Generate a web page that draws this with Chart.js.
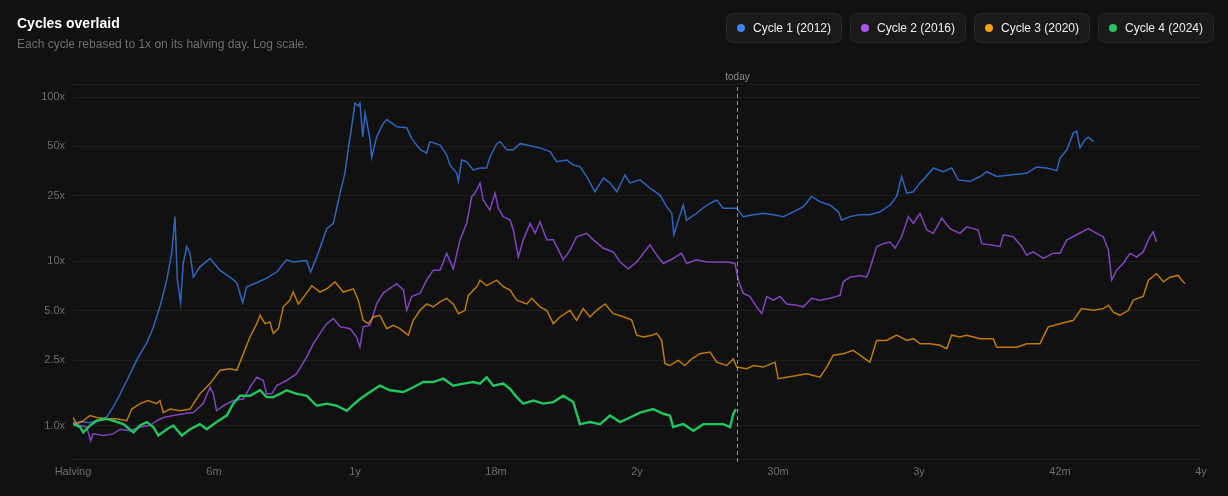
<!DOCTYPE html>
<html>
<head>
<meta charset="utf-8">
<script src="https://cdn.jsdelivr.net/npm/chart.js@4"></script>
<style>
  html, body { margin: 0; padding: 0; background: #111111; }
  body { width: 1228px; height: 496px; position: relative; overflow: hidden; font-family: "Liberation Sans", Arial, sans-serif; }
  #wrap { position: absolute; left: 0; top: 0; width: 1228px; height: 496px; }
  #title { position: absolute; left: 17px; top: 15px; color: #ffffff; font-size: 14px; font-weight: bold; }
  #sub { position: absolute; left: 17px; top: 37px; color: #6f6f6f; font-size: 12px; }
  #legend { position: absolute; right: 14px; top: 13px; display: flex; gap: 8px; }
  .item { box-sizing: border-box; width: 116px; height: 30px; padding: 0 0 0 10px; display: flex; align-items: center;
          border: 1px solid #2a2a2a; background: #1a1a1a; border-radius: 7px; color: #ededed; font-size: 12px; }
  .dot { width: 8px; height: 8px; border-radius: 50%; margin-right: 8px; }
</style>
</head>
<body>
<div id="wrap"><canvas id="chart" width="1228" height="496"></canvas></div>
<div id="title">Cycles overlaid</div>
<div id="sub">Each cycle rebased to 1x on its halving day. Log scale.</div>
<div id="legend"></div>
<script>
// months since halving, and price multiple vs halving day
const c1Months = [0,0.3,0.72,1.15,1.43,1.7,2.0,2.29,2.71,3.14,3.4,3.7,3.99,4.2,4.34,4.44,4.58,4.69,4.84,4.98,5.12,5.4,5.83,6.26,6.68,6.97,7.22,7.39,7.82,8.24,8.67,9.09,9.37,9.94,10.11,10.37,10.8,11.08,11.36,11.57,11.71,11.86,12.0,12.14,12.21,12.33,12.43,12.64,12.71,12.92,13.2,13.35,13.77,14.2,14.41,14.77,15.05,15.19,15.62,15.9,16.04,16.33,16.4,16.54,16.75,17.03,17.32,17.6,17.74,18.03,18.17,18.46,18.74,19.02,19.31,19.87,20.3,20.58,21.01,21.29,21.57,21.86,22.21,22.57,22.85,23.14,23.49,23.7,24.13,24.55,24.98,25.26,25.48,25.57,25.76,25.97,26.11,26.54,26.97,27.39,27.67,28.24,28.52,28.95,29.37,29.8,30.23,30.65,31.08,31.43,31.79,32.21,32.57,32.71,33.06,33.49,33.91,34.34,34.77,35.05,35.26,35.48,35.76,36.04,36.18,36.61,37.03,37.39,37.67,38.17,38.6,38.88,39.31,39.87,40.58,41.01,41.43,41.86,42.0,42.29,42.57,42.71,42.85,43.06,43.2,43.42];
const c1Values = [1.03,1.06,1.04,1.09,1.12,1.29,1.55,1.88,2.5,3.2,3.9,5.3,7.7,11.2,18.7,7.7,5.6,9.7,12.3,11.2,8.0,9.25,10.4,8.8,8.0,7.4,5.6,7.0,7.4,7.9,8.6,10.2,9.9,10.1,8.6,10.6,15.8,17.0,25.9,34.3,48,66,92,88,92,57,80,55,43,57,69,73,66,65,56,48,45.6,53.5,51,44.5,38.6,34.3,30.7,41.4,40.4,36,37,37,43,52,53.5,47.7,47.7,52,51,49,46.5,40.4,41.4,38.6,37.7,32.8,26.5,32.1,30,26.5,33.5,30,31.3,27.9,25.3,21.5,19.6,14.5,17.8,22,17.8,19.6,22,23.6,21,21,18.7,19.2,19.6,19.2,18.7,20,21.5,24.8,23,22,20,17.8,18.7,19.2,19.2,20,22,24.8,32.8,26,26.5,30,31.3,37,35.1,37,31.3,30.6,32.8,35.1,32.8,33.5,34.3,37.5,37,35.6,42.3,47.7,60.5,62,49,55,57,53.5];

const c2Months = [0,0.3,0.58,0.75,0.86,1.29,1.71,2.0,2.43,2.85,3.28,3.56,3.84,4.27,4.69,5.12,5.54,5.83,5.97,6.11,6.4,6.82,7.25,7.53,7.82,8.1,8.24,8.46,8.67,9.09,9.52,9.94,10.23,10.51,10.8,11.08,11.36,11.79,12.07,12.21,12.35,12.64,12.92,13.2,13.77,14.06,14.2,14.41,14.77,15.05,15.33,15.62,15.9,16.18,16.47,16.75,16.97,17.11,17.32,17.46,17.74,17.96,18.1,18.31,18.6,18.74,18.95,19.16,19.45,19.66,19.87,20.16,20.44,20.66,20.86,21.15,21.43,21.86,22.14,22.57,22.99,23.28,23.63,23.99,24.27,24.55,24.84,25.12,25.54,25.9,26.11,26.54,26.97,27.39,27.82,28.17,28.31,28.52,28.81,29.09,29.31,29.52,29.8,30.09,30.37,30.8,31.08,31.43,31.79,32.21,32.64,32.78,33.06,33.49,33.77,33.91,34.2,34.48,34.77,34.98,35.26,35.55,35.76,36.04,36.33,36.61,36.97,37.32,37.74,38.03,38.52,38.67,39.02,39.45,39.59,40.01,40.37,40.58,40.86,41.29,41.71,42.0,42.29,42.71,43.2,43.56,43.84,44.06,44.2,44.41,44.69,44.98,45.26,45.54,45.76,45.96,46.11];
const c2Values = [1.05,1.0,0.98,0.81,0.89,0.87,0.89,0.95,0.93,0.98,1.0,1.07,1.12,1.15,1.18,1.2,1.36,1.71,1.56,1.23,1.32,1.42,1.45,1.71,1.97,1.88,1.56,1.56,1.75,1.88,2.07,2.61,3.15,3.64,4.17,4.48,4.0,3.89,3.46,3.0,3.99,4.08,5.5,6.4,7.3,6.7,5.03,6.1,6.4,7.67,8.83,8.83,11.2,9.0,13.5,17.0,24.8,26,29.9,23.6,20.5,26,21,18.7,17.8,15.5,10.6,13.5,17,14.8,17.4,13.5,13.5,11.7,10.2,11.7,14.1,14.8,13.5,12,11.4,9.9,9.0,9.9,11.2,12.6,10.9,9.7,10.4,11.2,9.7,10.2,9.9,9.9,9.9,9.7,7.67,6.4,6.1,5.28,4.8,6.1,5.8,6.1,5.5,5.4,5.28,5.95,5.8,5.95,6.2,7.5,8.0,8.2,8.0,9.0,12.3,12.8,13.1,12.0,14.1,18.7,17,19.6,15.5,14.8,18.3,15.8,14.8,16.2,15.5,12.8,12.6,12.3,14.5,14.1,12.3,10.9,11.4,10.4,11.2,11.2,13.5,14.5,15.8,14.8,14.1,11.7,7.67,8.83,9.7,11.2,10.6,11.4,13.5,15.1,13.1];

const c3Months = [0,0.16,0.44,0.72,1.01,1.43,1.86,2.29,2.5,2.85,3.2,3.56,3.7,3.84,4.13,4.55,4.98,5.4,5.83,6.26,6.68,6.97,7.25,7.53,7.82,7.96,8.17,8.38,8.52,8.74,8.95,9.23,9.37,9.59,9.94,10.16,10.51,10.8,11.15,11.5,11.93,12.14,12.35,12.57,12.78,13.06,13.35,13.63,13.91,14.27,14.48,14.77,15.05,15.33,15.62,15.9,16.18,16.4,16.68,16.82,17.18,17.32,17.6,18.03,18.31,18.6,18.88,19.31,19.52,19.87,20.16,20.44,20.72,21.15,21.43,21.71,22.0,22.28,22.64,22.99,23.42,23.77,23.99,24.27,24.63,24.84,25.05,25.19,25.4,25.76,26.04,26.33,26.68,27.11,27.39,27.82,28.1,28.24,28.67,28.95,29.37,29.87,30.01,30.37,30.8,31.22,31.79,32.07,32.35,32.78,33.2,33.49,33.91,34.2,34.62,35.05,35.48,35.76,36.04,36.47,36.89,37.18,37.39,37.74,38.03,38.6,39.16,39.31,39.73,40.16,40.58,41.15,41.36,41.5,42.0,42.57,42.92,43.42,43.84,44.06,44.27,44.55,44.91,45.12,45.54,45.76,46.11,46.4,46.68,47.03,47.18,47.32];
const c3Values = [1.12,1.02,1.07,1.15,1.12,1.1,1.1,1.07,1.26,1.36,1.42,1.36,1.42,1.2,1.26,1.23,1.26,1.56,1.8,2.17,2.22,2.17,2.74,3.46,4.17,4.69,4.17,4.27,3.64,3.89,5.28,5.8,6.5,5.5,6.4,7.1,6.5,6.8,7.5,6.5,6.8,5.8,4.37,4.17,4.58,4.69,3.89,4.08,3.89,3.55,4.37,5.03,5.5,5.28,5.66,5.95,5.5,4.8,5.03,6.2,7.0,7.67,7.1,7.67,7.0,6.67,5.8,5.5,5.95,5.28,5.03,4.17,4.58,5.03,4.37,5.15,4.58,5.03,5.5,4.8,4.6,4.4,3.55,3.46,3.55,3.64,3.3,2.38,2.32,2.49,2.32,2.55,2.74,2.8,2.43,2.32,2.55,2.27,2.22,2.32,2.27,2.43,1.93,1.97,2.02,2.07,1.97,2.27,2.68,2.74,2.87,2.68,2.43,3.3,3.3,3.55,3.3,3.38,3.15,3.15,3.08,2.94,3.55,3.46,3.55,3.38,3.38,3.0,3.0,3.0,3.15,3.15,3.64,3.99,4.17,4.37,5.15,5.03,5.15,5.4,4.9,4.69,5.03,5.8,6.1,7.67,8.4,7.5,8.0,8.2,7.67,7.33];

const c4Months = [0,0.3,0.44,0.72,1.01,1.43,1.71,2.14,2.57,2.85,3.14,3.42,3.63,3.99,4.27,4.63,4.98,5.4,5.69,6.11,6.54,6.82,7.11,7.53,7.96,8.24,8.52,8.81,9.09,9.52,9.94,10.37,10.8,11.22,11.65,11.93,12.21,12.64,13.06,13.49,14.06,14.48,14.91,15.33,15.76,16.18,16.61,17.03,17.32,17.6,17.89,18.31,18.6,18.88,19.16,19.59,20.01,20.44,20.86,21.29,21.57,22.0,22.43,22.85,23.28,23.7,24.13,24.69,25.12,25.4,25.54,25.97,26.4,26.82,27.25,27.67,27.96,28.1,28.21];
const c4Values = [1.02,0.98,0.91,1.0,1.07,1.1,1.07,1.02,0.91,1.0,1.05,0.98,0.87,0.95,1.0,0.87,0.95,1.02,0.95,1.05,1.15,1.36,1.52,1.52,1.64,1.49,1.49,1.56,1.64,1.56,1.52,1.32,1.36,1.32,1.23,1.34,1.45,1.6,1.75,1.64,1.6,1.71,1.84,1.84,1.93,1.75,1.8,1.84,1.8,1.97,1.75,1.8,1.67,1.49,1.36,1.42,1.36,1.39,1.52,1.39,1.02,1.05,1.02,1.15,1.05,1.12,1.2,1.26,1.18,1.15,0.98,1.02,0.93,1.02,1.02,1.02,0.98,1.18,1.26];

const cycleNames = ["Cycle 1 (2012)", "Cycle 2 (2016)", "Cycle 3 (2020)", "Cycle 4 (2024)"];
const cycleColors = ["#3b82f6", "#a855f7", "#f59e0b", "#22c55e"];

const xTickMonths = [0, 6, 12, 18, 24, 30, 36, 42, 48];
const xTickLabels = ["Halving", "6m", "1y", "18m", "2y", "30m", "3y", "42m", "4y"];
const yTicks = [1, 2.5, 5, 10, 25, 50, 100];
const yTickLabels = ["1.0x", "2.5x", "5.0x", "10x", "25x", "50x", "100x"];
const todayMonth = 28.24;

const pairs = (xs, ys) => xs.map((x, i) => ({ x: x, y: ys[i] }));
const seriesMonths = [c1Months, c2Months, c3Months, c4Months];
const seriesValues = [c1Values, c2Values, c3Values, c4Values];

const fade = (hex, a) => {
  const n = parseInt(hex.slice(1), 16);
  return `rgba(${n >> 16}, ${(n >> 8) & 255}, ${n & 255}, ${a})`;
};

// legend pills
const legend = document.querySelector("#legend");
cycleNames.forEach((name, i) => {
  const el = document.createElement("div");
  el.className = "item";
  el.innerHTML = `<span class="dot" style="background:${cycleColors[i]}"></span>${name}`;
  legend.appendChild(el);
});

const todayLine = {
  id: "todayLine",
  afterDatasetsDraw(chart) {
    const { ctx, chartArea, scales } = chart;
    const x = Math.round(scales.x.getPixelForValue(todayMonth)) + 0.5;
    ctx.save();
    ctx.strokeStyle = "rgba(190,190,190,0.75)";
    ctx.lineWidth = 1;
    ctx.setLineDash([4, 3]);
    ctx.beginPath();
    ctx.moveTo(x, chartArea.top + 3);
    ctx.lineTo(x, chartArea.bottom);
    ctx.stroke();
    ctx.setLineDash([]);
    ctx.fillStyle = "#8c8c8c";
    ctx.font = "10px 'Liberation Sans', Arial, sans-serif";
    ctx.textAlign = "center";
    ctx.textBaseline = "bottom";
    ctx.fillText("today", x, chartArea.top - 2);
    ctx.restore();
  }
};

new Chart(document.getElementById("chart"), {
  type: "line",
  data: {
    datasets: cycleNames.map((name, i) => ({
      label: name,
      data: pairs(seriesMonths[i], seriesValues[i]),
      borderColor: i === 3 ? cycleColors[i] : fade(cycleColors[i], 0.75),
      borderWidth: i === 3 ? 2.4 : 1.5,
      pointRadius: 0,
      tension: 0,
      fill: false,
      order: 4 - i
    }))
  },
  options: {
    responsive: false,
    animation: false,
    events: [],
    layout: { padding: { top: 84, right: 27, left: 0, bottom: 0 } },
    plugins: { legend: { display: false }, tooltip: { enabled: false } },
    scales: {
      x: {
        type: "linear",
        min: 0,
        max: 48,
        afterBuildTicks: (s) => { s.ticks = xTickMonths.map(v => ({ value: v })); },
        afterFit: (s) => { s.height = 34; },
        ticks: {
          autoSkip: false,
          maxRotation: 0,
          padding: 3,
          color: "#6e6e6e",
          font: { size: 11, family: "'Liberation Sans', Arial, sans-serif" },
          callback: (v) => xTickLabels[xTickMonths.indexOf(v)]
        },
        grid: { display: false, drawTicks: false },
        border: { display: false }
      },
      y: {
        type: "logarithmic",
        min: 0.62,
        max: 120,
        afterBuildTicks: (s) => { s.ticks = [0.62, ...yTicks, 120].map(v => ({ value: v })); },
        afterFit: (s) => { s.width = 73; },
        ticks: {
          autoSkip: false,
          padding: 8,
          color: "#6e6e6e",
          font: { size: 11, family: "'Liberation Sans', Arial, sans-serif" },
          callback: (v) => { const k = yTicks.indexOf(v); return k < 0 ? "" : yTickLabels[k]; }
        },
        grid: { color: "#1f1f1f", drawTicks: false },
        border: { display: false }
      }
    }
  },
  plugins: [todayLine]
});
</script>
</body>
</html>
